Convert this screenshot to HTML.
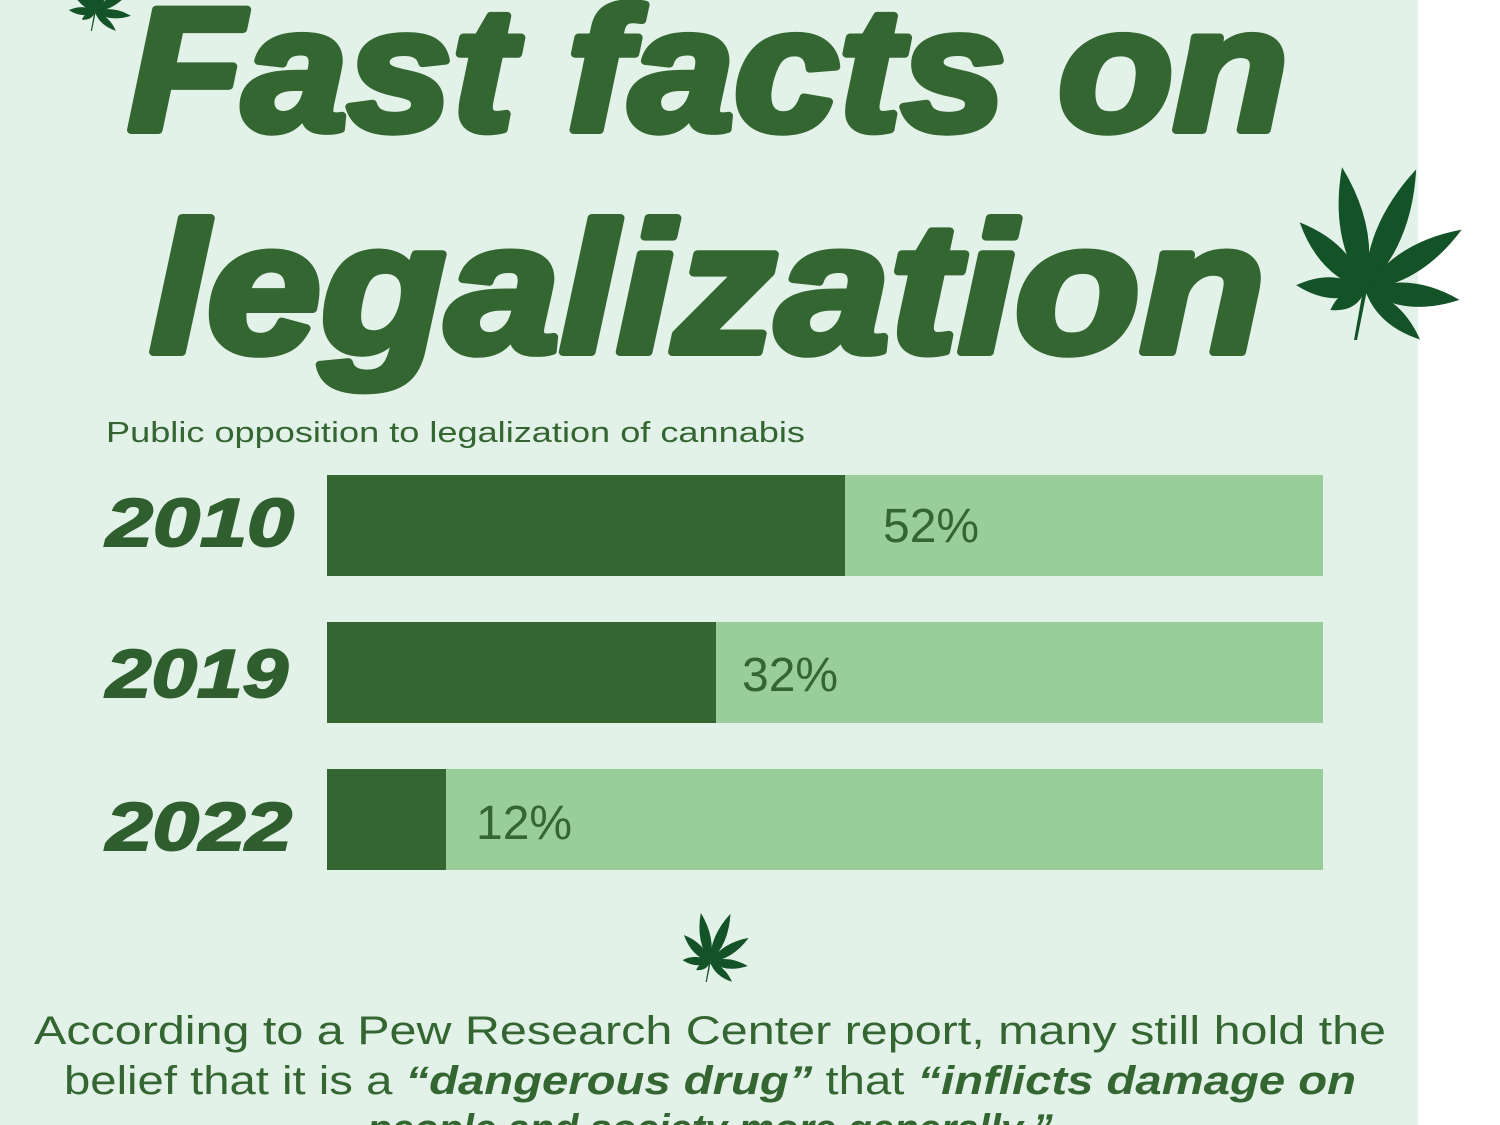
<!DOCTYPE html>
<html><head><meta charset="utf-8"><style>
html,body{margin:0;padding:0;width:1500px;height:1125px;overflow:hidden;background:#fff}
</style></head><body>
<svg width="1500" height="1125" xmlns="http://www.w3.org/2000/svg">
<defs>
<path id="lf" d="M0,0 Q26,-45 0,-100 Q-26,-45 0,0Z"/>
<g id="leaf" fill="#145228">
<use href="#lf" transform="rotate(-10.6) scale(1,1.25)"/>
<use href="#lf" transform="rotate(23) scale(1,1.31)"/>
<use href="#lf" transform="rotate(-44) scale(0.9,0.94)"/>
<use href="#lf" transform="rotate(58) scale(0.95,1.14)"/>
<use href="#lf" transform="rotate(-86) scale(0.8,0.69)"/>
<use href="#lf" transform="rotate(96) scale(0.9,0.95)"/>
<use href="#lf" transform="rotate(-120) scale(0.6,0.4)"/>
<use href="#lf" transform="rotate(132) scale(0.7,0.74)"/>
<path d="M-2,0 L-11,50 L-8,50 L2,0Z"/>
</g>
</defs>
<rect x="0" y="0" width="1418" height="1125" fill="#e3f2e8"/>
<use href="#leaf" transform="translate(1365,290)"/>
<use href="#leaf" transform="translate(710,962) scale(0.4)"/>
<use href="#leaf" transform="translate(95,12) scale(0.38)"/>
<g font-family="Liberation Sans, sans-serif" font-weight="bold" font-style="italic" fill="#346632" stroke="#346632" stroke-width="8" stroke-linejoin="round">
<text x="128" y="130" font-size="175" textLength="1160" lengthAdjust="spacingAndGlyphs">Fast facts on</text>
<text x="150" y="352" font-size="185" textLength="1115" lengthAdjust="spacingAndGlyphs">legalization</text>
</g>
<text x="106" y="442" font-family="Liberation Sans, sans-serif" font-size="29" fill="#346632" textLength="699" lengthAdjust="spacingAndGlyphs">Public opposition to legalization of cannabis</text>
<g font-family="Liberation Sans, sans-serif" font-weight="bold" font-style="italic" font-size="68" fill="#2f5f2e" stroke="#2f5f2e" stroke-width="2">
<text x="106" y="546" textLength="188" lengthAdjust="spacingAndGlyphs">2010</text>
<text x="106" y="697" textLength="182" lengthAdjust="spacingAndGlyphs">2019</text>
<text x="106" y="850" textLength="186" lengthAdjust="spacingAndGlyphs">2022</text>
</g>
<rect x="327" y="475" width="996" height="101" fill="#99cd99"/>
<rect x="327" y="475" width="518" height="101" fill="#346632"/>
<rect x="327" y="622" width="996" height="101" fill="#99cd99"/>
<rect x="327" y="622" width="389" height="101" fill="#346632"/>
<rect x="327" y="769" width="996" height="101" fill="#99cd99"/>
<rect x="327" y="769" width="119" height="101" fill="#346632"/>
<g font-family="Liberation Sans, sans-serif" font-size="48" fill="#346632">
<text x="883" y="542">52%</text>
<text x="742" y="691">32%</text>
<text x="476" y="839">12%</text>
</g>
<g font-family="Liberation Sans, sans-serif" font-size="40" fill="#346632" text-anchor="middle">
<text x="710" y="1044" textLength="1352" lengthAdjust="spacingAndGlyphs">According to a Pew Research Center report, many still hold the</text>
<text x="710" y="1094" textLength="1292" lengthAdjust="spacingAndGlyphs">belief that it is a <tspan font-weight="bold" font-style="italic">“dangerous drug”</tspan> that <tspan font-weight="bold" font-style="italic">“inflicts damage on</tspan></text>
<text x="710" y="1142" font-weight="bold" font-style="italic">people and society more generally.”</text>
</g>
</svg>
</body></html>
